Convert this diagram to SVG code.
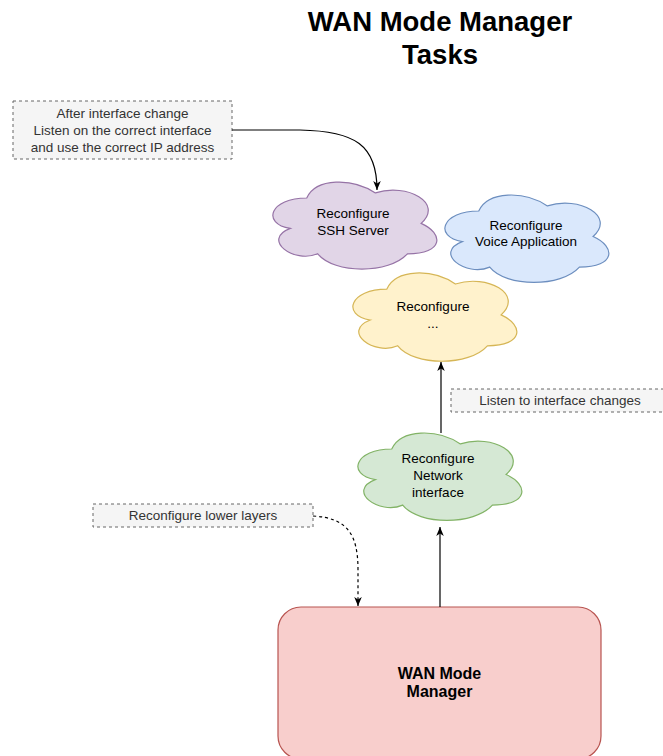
<svg xmlns="http://www.w3.org/2000/svg" width="663" height="756" viewBox="0 0 663 756">
<style>
text{font-family:"Liberation Sans",Arial,Helvetica,sans-serif;}
.t{font-size:13.5px;fill:#000;text-anchor:middle;}
.n{font-size:13.5px;fill:#333;text-anchor:middle;}
.title{font-size:27.5px;font-weight:bold;fill:#000;text-anchor:middle;}
.b{font-size:16px;font-weight:bold;fill:#000;text-anchor:middle;}
.note{fill:#f5f5f5;stroke:#666;stroke-width:1;stroke-dasharray:3 3;}
.c{stroke-width:1.2;}
.purple{fill:#e1d5e7;stroke:#9673a6;}
.blue{fill:#dae8fc;stroke:#6c8ebf;}
.yellow{fill:#fff2cc;stroke:#d6b656;}
.green{fill:#d5e8d4;stroke:#82b366;}
.red{fill:#f8cecc;stroke:#b85450;stroke-width:1.2;}
.e{fill:none;stroke:#000;stroke-width:1.2;marker-end:url(#arr);}
.d{stroke-dasharray:3 3;}
</style>
<defs>
<path id="cloud" vector-effect="non-scaling-stroke" d="M25,25 C5,25 0,50 16,55 C0,66 18,90 31,80 C40,100 70,100 80,80 C100,80 100,60 87.5,50 C100,30 80,10 62.5,20 C50,5 30,5 25,25 Z"/>
<marker id="arr" markerUnits="userSpaceOnUse" viewBox="0 0 10 10" refX="10" refY="5" markerWidth="9" markerHeight="9" orient="auto">
<path d="M0,0.8 L10,5 L0,9.2 L2.8,5 Z" fill="#000" stroke="none"/>
</marker>
</defs>
<g id="title">
<text class="title" x="440" y="31">WAN Mode Manager</text>
<text class="title" x="440" y="64">Tasks</text>
</g>
<g id="note-interface">
<rect class="note" x="13" y="101" width="219" height="58"/>
<text class="n" x="122.5" y="118">After interface change</text>
<text class="n" x="122.5" y="135">Listen on the correct interface</text>
<text class="n" x="122.5" y="151.5">and use the correct IP address</text>
</g>
<g id="ssh">
<use href="#cloud" class="c purple" transform="translate(261,172.6) scale(1.83,1.015)"/>
<text class="t" x="353" y="218">Reconfigure</text>
<text class="t" x="353" y="235">SSH Server</text>
</g>
<g id="voice">
<use href="#cloud" class="c blue" transform="translate(433,185.5) scale(1.83,1.02)"/>
<text class="t" x="526" y="230">Reconfigure</text>
<text class="t" x="526" y="246">Voice Application</text>
</g>
<g id="other">
<use href="#cloud" class="c yellow" transform="translate(341,263.4) scale(1.83,1.03)"/>
<text class="t" x="433" y="311">Reconfigure</text>
<text class="t" x="433" y="327.5">...</text>
</g>
<g id="network">
<use href="#cloud" class="c green" transform="translate(346,423.5) scale(1.83,1.02)"/>
<text class="t" x="438" y="463">Reconfigure</text>
<text class="t" x="438" y="480">Network</text>
<text class="t" x="438" y="497">interface</text>
</g>
<g id="note-listen">
<rect class="note" x="451" y="389" width="220" height="23"/>
<text class="n" x="560" y="405">Listen to interface changes</text>
</g>
<g id="note-lower">
<rect class="note" x="93" y="504" width="220" height="23"/>
<text class="n" x="203" y="520">Reconfigure lower layers</text>
</g>
<g id="wan">
<rect class="red" x="278" y="607" width="323" height="152" rx="23" ry="23"/>
<text class="b" x="439.5" y="679">WAN Mode</text>
<text class="b" x="439.5" y="697">Manager</text>
</g>
<g id="connectors">
<path class="e" d="M232,130 L300,130 C355,131 377,145 377,190"/>
<path class="e" d="M441,433 L441,362"/>
<path class="e" d="M440,607 L440,527"/>
<path class="e d" d="M313,516 C348,518 358,535 358,570 L358,606"/>
</g>
</svg>
